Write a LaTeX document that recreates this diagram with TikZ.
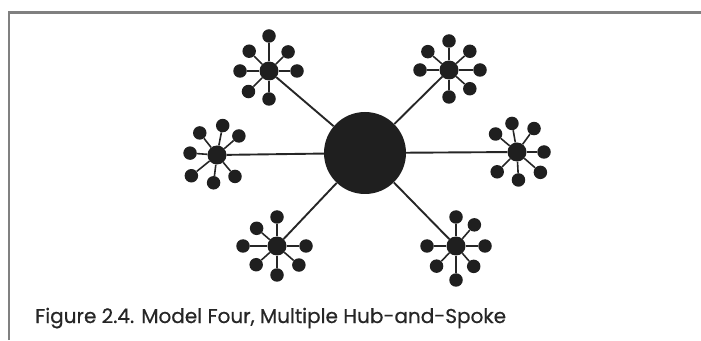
\documentclass[tikz,border=0pt]{standalone}
\usepackage{fontspec}
\setmainfont{Poppins}
\newfontfamily\capfont{Poppins}[FakeBold=0.6]
\usetikzlibrary{calc}
\begin{document}
\begin{tikzpicture}[x=1pt, y=1pt,
  hub/.style={circle, fill=black!88, inner sep=0pt, minimum size=82pt},
  subhub/.style={circle, fill=black!88, inner sep=0pt, minimum size=19pt},
  leaf/.style={circle, fill=black!88, inner sep=0pt, minimum size=13.5pt},
  spoke/.style={line width=1.9pt, black!85},
  twig/.style={line width=1.6pt, black!85}]
  \useasboundingbox (0,0) rectangle (701,340);
  \draw[line width=2.6pt, black!50] (9,0) -- (9,327.5) -- (701,327.5);
  \node[hub] (hub) at (365,187) {};
  \node[subhub] (tl) at (269,269) {};
  \node[subhub] (tr) at (449,270) {};
  \node[subhub] (l) at (217,185) {};
  \node[subhub] (r) at (517,188) {};
  \node[subhub] (bl) at (277,94) {};
  \node[subhub] (br) at (456,94) {};
  \foreach \s in {tl,tr,l,r,bl,br}
    \draw[spoke] (hub) -- (\s);
  \foreach \a/\d [count=\i] in {90/35, 135/28, 45/27, 180/29, 0/28, 225/29, 270/28} {
    \node[leaf] (tl-\i) at ($(tl)+(\a:\d)$) {};
    \draw[twig] (tl) -- (tl-\i);
  }
  \foreach \a/\d [count=\i] in {90/29, 139/28, 42/28, 180/29, 0/31, -42/28, 270/27} {
    \node[leaf] (tr-\i) at ($(tr)+(\a:\d)$) {};
    \draw[twig] (tr) -- (tr-\i);
  }
  \foreach \a/\d [count=\i] in {79/30, 128/28, 41/29, 176/27, 219/33, 263/28, 310/28} {
    \node[leaf] (l-\i) at ($(l)+(\a:\d)$) {};
    \draw[twig] (l) -- (l-\i);
  }
  \foreach \a/\d [count=\i] in {100/29, 140/28, 54/29, 0/27, -41/31, -87/28, 225/28} {
    \node[leaf] (r-\i) at ($(r)+(\a:\d)$) {};
    \draw[twig] (r) -- (r-\i);
  }
  \foreach \a/\d [count=\i] in {90/29, 139/27, 180/34, 0/29, 222/28, 270/29, -41/29} {
    \node[leaf] (bl-\i) at ($(bl)+(\a:\d)$) {};
    \draw[twig] (bl) -- (bl-\i);
  }
  \foreach \a/\d [count=\i] in {90/29, 49/28, 180/29, 0/29, 226/28, 270/34, -49/27} {
    \node[leaf] (br-\i) at ($(br)+(\a:\d)$) {};
    \draw[twig] (br) -- (br-\i);
  }
  \node[anchor=base west, inner sep=0pt, text=black!85,
    font=\capfont\fontsize{20}{22}\selectfont] (caption) at (35,17)
    {Figure 2.4. Model Four, Multiple Hub-and-Spoke};
\end{tikzpicture}
\end{document}
